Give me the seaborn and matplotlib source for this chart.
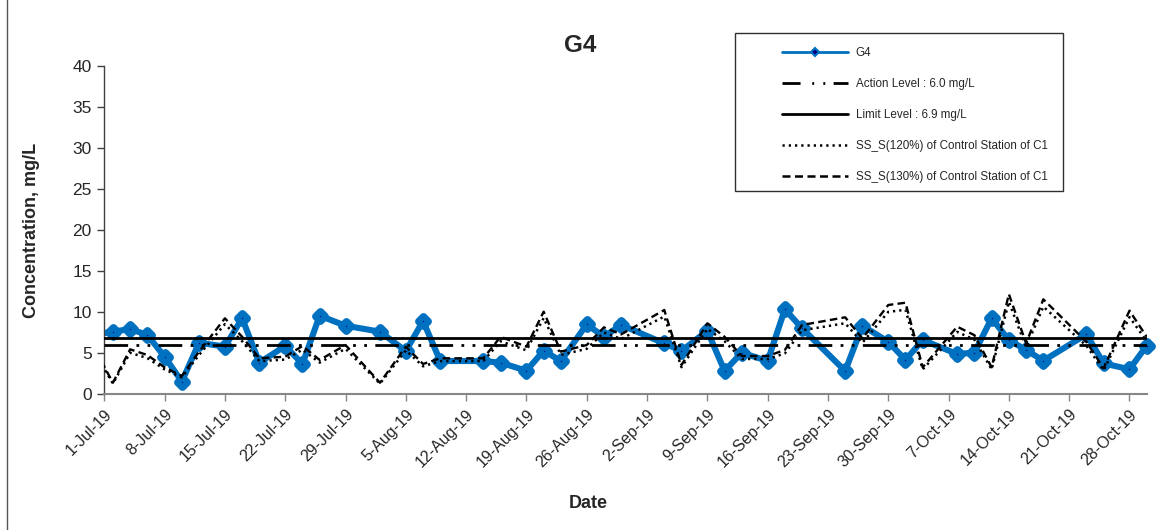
import matplotlib
matplotlib.use("Agg")
import matplotlib.pyplot as plt
from matplotlib.lines import Line2D
from matplotlib.patches import Rectangle
import seaborn as sns
import pandas as pd

# ---------------- data ----------------
dates = ["2019-06-30", "2019-07-02", "2019-07-04", "2019-07-06", "2019-07-08", "2019-07-10",
         "2019-07-12", "2019-07-15", "2019-07-17", "2019-07-19", "2019-07-22", "2019-07-24",
         "2019-07-26", "2019-07-29", "2019-08-02", "2019-08-05", "2019-08-07", "2019-08-09",
         "2019-08-14", "2019-08-16", "2019-08-19", "2019-08-21", "2019-08-23", "2019-08-26",
         "2019-08-28", "2019-08-30", "2019-09-04", "2019-09-06", "2019-09-09", "2019-09-11",
         "2019-09-13", "2019-09-16", "2019-09-18", "2019-09-20", "2019-09-25", "2019-09-27",
         "2019-09-30", "2019-10-02", "2019-10-04", "2019-10-08", "2019-10-10", "2019-10-12",
         "2019-10-14", "2019-10-16", "2019-10-18", "2019-10-23", "2019-10-25", "2019-10-28",
         "2019-10-30"]

g4 = [7.3, 7.62, 7.95, 7.22, 4.58, 1.54, 6.28, 5.8, 9.25, 3.85, 5.88, 3.69, 9.57, 8.35,
      7.62, 5.27, 8.92, 4.05, 4.05, 3.85, 2.87, 5.31, 4.05, 8.52, 7.01, 8.44, 6.2, 5.27,
      7.74, 2.84, 5.07, 4.05, 10.35, 8.03, 2.84, 8.35, 6.4, 4.18, 6.61, 4.9, 5.07, 9.25,
      6.61, 5.39, 4.09, 7.3, 3.77, 3.04, 5.92]

ss130 = [5.3, 1.41, 5.47, 4.78, 3.28, 2.23, 5.19, 9.25, 7.0, 4.38, 4.58, 5.88, 4.18, 6.0,
         1.41, 5.8, 3.69, 4.38, 4.38, 7.0, 5.8, 10.06, 5.19, 6.0, 8.15, 7.3, 10.26, 3.57,
         8.64, 7.0, 4.66, 4.66, 5.4, 8.44, 9.37, 6.8, 10.87, 11.15, 3.28, 8.23, 7.2, 3.28,
         12.2, 6.2, 11.56, 6.4, 3.16, 10.18, 7.0]

ss120 = [4.89, 1.30, 5.05, 4.41, 3.03, 2.06, 4.79, 8.54, 6.46, 4.04, 4.23, 5.43, 3.86, 5.54,
         1.30, 5.35, 3.41, 4.04, 4.04, 6.46, 5.35, 9.29, 4.79, 5.54, 7.52, 6.74, 9.47, 3.30,
         7.98, 6.46, 4.30, 4.30, 4.98, 7.79, 8.65, 6.28, 10.03, 10.29, 3.03, 7.60, 6.65, 3.03,
         11.26, 5.72, 10.67, 5.91, 2.92, 9.40, 6.46]

action_level = 6.0
limit_level = 6.9

tick_dates = ["2019-07-01", "2019-07-08", "2019-07-15", "2019-07-22", "2019-07-29",
              "2019-08-05", "2019-08-12", "2019-08-19", "2019-08-26", "2019-09-02",
              "2019-09-09", "2019-09-16", "2019-09-23", "2019-09-30", "2019-10-07",
              "2019-10-14", "2019-10-21", "2019-10-28"]
tick_labels = ["1-Jul-19", "8-Jul-19", "15-Jul-19", "22-Jul-19", "29-Jul-19", "5-Aug-19",
               "12-Aug-19", "19-Aug-19", "26-Aug-19", "2-Sep-19", "9-Sep-19", "16-Sep-19",
               "23-Sep-19", "30-Sep-19", "7-Oct-19", "14-Oct-19", "21-Oct-19", "28-Oct-19"]
x_start, x_end = "2019-07-01", "2019-10-30"

title = "G4"
legend_labels = ["G4", "Action Level : 6.0 mg/L", "Limit Level : 6.9 mg/L",
                 "SS_S(120%) of Control Station of C1", "SS_S(130%) of Control Station of C1"]

# ---------------- plot ----------------
sns.set_style("white")
plt.rcParams["font.family"] = ["Liberation Sans", "DejaVu Sans"]

df = pd.DataFrame({"date": pd.to_datetime(dates), "g4": g4, "ss120": ss120, "ss130": ss130})
xmin, xmax = pd.Timestamp(x_start), pd.Timestamp(x_end)

fig = plt.figure(figsize=(11.72, 5.30), dpi=100)
ax = fig.add_axes([104.3 / 1172, 1 - 394.3 / 530, (1146.7 - 104.3) / 1172, (394.3 - 65.7) / 530])

BLUE = "#0070C0"
NAVY = "#000080"

sns.lineplot(data=df, x="date", y="g4", ax=ax, color=BLUE, lw=4.4, zorder=2, sort=True)
inrange = df[(df["date"] >= xmin) & (df["date"] <= xmax)]
sns.scatterplot(data=inrange, x="date", y="g4", ax=ax, marker="D", s=22, color=NAVY,
                edgecolor=BLUE, linewidth=5.5, zorder=3, clip_on=False)

sns.lineplot(data=df, x="date", y="ss120", ax=ax, color="black", lw=1.8,
             linestyle=(0, (0.9, 1.6)), zorder=4, sort=True)
sns.lineplot(data=df, x="date", y="ss130", ax=ax, color="black", lw=1.7,
             linestyle=(0, (3.2, 1.8)), zorder=4, sort=True)

action_ls = (0, (8.5, 3, 1, 3, 1, 3))
ax.axhline(action_level, color="black", lw=2.0, linestyle=action_ls, zorder=5)
ax.axhline(limit_level, color="black", lw=2.0, zorder=5)

ax.set_xlim(xmin, xmax)
ax.set_ylim(0, 40)
ax.set_yticks(range(0, 41, 5))
ax.set_xticks(pd.to_datetime(tick_dates))
ax.set_xticklabels(tick_labels, rotation=45, ha="right", rotation_mode="anchor", fontsize=11.5)
ax.tick_params(axis="y", labelsize=12.5, length=5, width=1, color="#404040", direction="out", left=True, pad=4)
ax.tick_params(axis="x", length=5, width=1, color="#868686", direction="out", bottom=True, pad=4)

for s in ["top", "right"]:
    ax.spines[s].set_visible(False)
ax.spines["left"].set_color("#404040")
ax.spines["bottom"].set_color("#868686")
ax.spines["left"].set_linewidth(1.0)
ax.spines["bottom"].set_linewidth(1.5)

ax.set_xlabel("")
ax.set_ylabel("")
fig.text(32 / 1172, 1 - 230 / 530, "Concentration, mg/L", rotation=90, ha="center", va="center",
         fontsize=13, fontweight="bold")
fig.text(588 / 1172, 1 - 503 / 530, "Date", ha="center", va="center", fontsize=13, fontweight="bold")
fig.text(580 / 1172, 1 - 45 / 530, title, ha="center", va="center", fontsize=17.5, fontweight="bold")

# legend
handles = [
    Line2D([], [], color=BLUE, lw=2.0, marker="D", markersize=4.5, markerfacecolor=NAVY,
           markeredgecolor=BLUE, markeredgewidth=1.5),
    Line2D([], [], color="black", lw=2.0, linestyle=(0, (6.5, 4.2, 0.7, 3.3, 0.7, 3.0))),
    Line2D([], [], color="black", lw=2.0),
    Line2D([], [], color="black", lw=1.8, linestyle=(0, (0.9, 1.6))),
    Line2D([], [], color="black", lw=1.8, linestyle=(0, (3.2, 1.8))),
]
fig.patches.append(Rectangle((735 / 1172, 1 - 191 / 530), (1063 - 735) / 1172, (191 - 33) / 530,
                             transform=fig.transFigure, fill=False, edgecolor="#303030", lw=1.0))
leg = fig.legend(handles, legend_labels, loc="upper left", bbox_to_anchor=(780 / 1172, 1 - 45 / 530),
                 bbox_transform=fig.transFigure, frameon=False, fontsize=8.4, handlelength=5.6,
                 handletextpad=0.68, labelspacing=1.63, borderpad=0.2, borderaxespad=0)

# chart-area border at left
fig.add_artist(Line2D([7 / 1172, 7 / 1172], [0, 1], transform=fig.transFigure, color="#555555", lw=1.0))

fig.savefig("out.png", dpi=100)
